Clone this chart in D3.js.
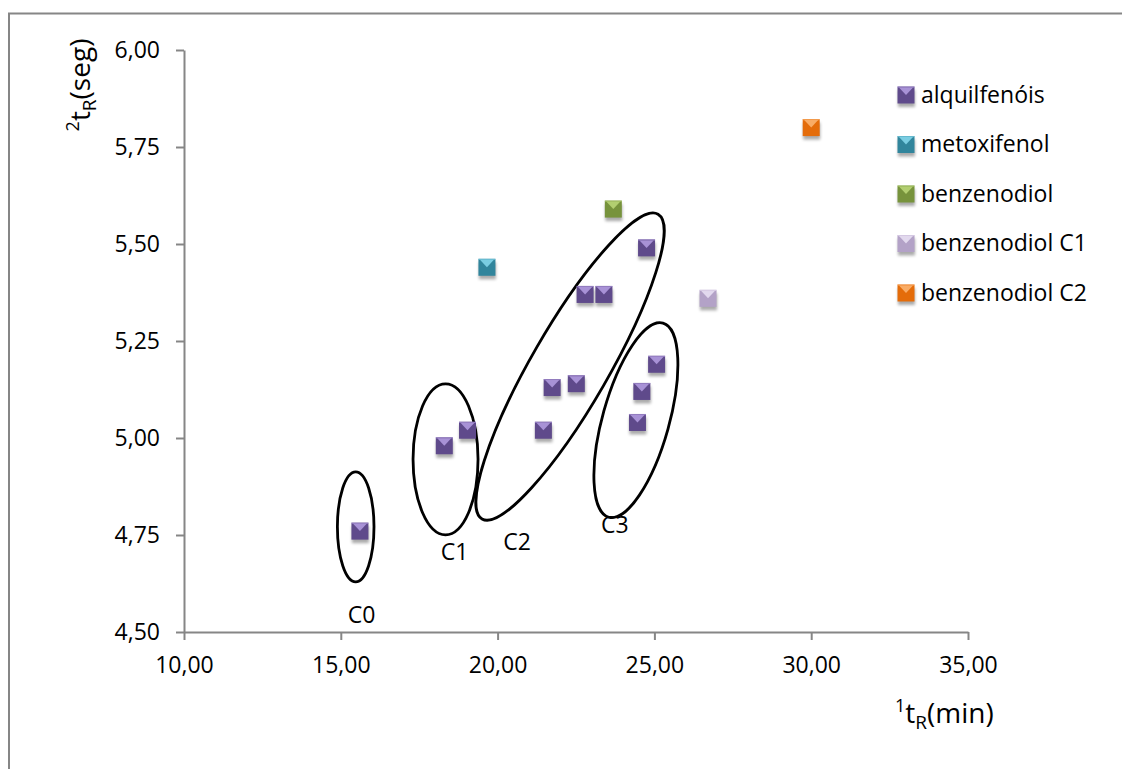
<!DOCTYPE html>
<html>
<head>
<meta charset="utf-8">
<script src="https://cdn.jsdelivr.net/npm/d3@7"></script>
<style>
  html, body { margin: 0; padding: 0; background: #fff; }
  svg { display: block; font-family: "Open Sans", sans-serif; }
</style>
</head>
<body>
<svg id="chart" width="1122" height="769"></svg>
<script>
// ---- data ----
const seriesNames = ["alquilfenóis", "metoxifenol", "benzenodiol", "benzenodiol C1", "benzenodiol C2"];

const alquilfenoisX = [15.61, 18.30, 19.04, 21.46, 21.74, 22.51, 22.79, 23.39, 24.75, 24.46, 24.60, 25.07];
const alquilfenoisY = [4.76, 4.98, 5.02, 5.02, 5.13, 5.14, 5.37, 5.37, 5.49, 5.04, 5.12, 5.19];
const metoxifenolX = [19.66];
const metoxifenolY = [5.44];
const benzenodiolX = [23.69];
const benzenodiolY = [5.59];
const benzenodiolC1X = [26.71];
const benzenodiolC1Y = [5.36];
const benzenodiolC2X = [30.00];
const benzenodiolC2Y = [5.80];

const xTicks = [10, 15, 20, 25, 30, 35];
const yTicks = [4.50, 4.75, 5.00, 5.25, 5.50, 5.75, 6.00];

// cluster groups (centre in data units)
const clusterNames = ["C0", "C1", "C2", "C3"];
const clusterCx = [15.475, 18.34, 22.31, 24.41];
const clusterCy = [4.771, 4.945, 5.184, 5.046];
const clusterLabelX = [15.66, 18.63, 20.62, 23.74];
const clusterLabelY = [4.523, 4.686, 4.711, 4.755];

// ---- styles ----
const palette = {
  "alquilfenóis":   { base: "#5F4A8B", light: "#A892D6" },
  "metoxifenol":    { base: "#31859C", light: "#7ACDE2" },
  "benzenodiol":    { base: "#77933C", light: "#B2CE70" },
  "benzenodiol C1": { base: "#B3A2C7", light: "#E2D9EE" },
  "benzenodiol C2": { base: "#E46C0A", light: "#F9AC66" }
};
// ellipse shape (pixels) per cluster
const clusterShape = [
  { rx: 18.3, ry: 55, rot: 0 },
  { rx: 32.5, ry: 75.5, rot: 0 },
  { rx: 176, ry: 38.5, rot: -60 },
  { rx: 100.8, ry: 33.3, rot: -74.4 }
];

const series = [
  { name: seriesNames[0], xs: alquilfenoisX, ys: alquilfenoisY },
  { name: seriesNames[1], xs: metoxifenolX, ys: metoxifenolY },
  { name: seriesNames[2], xs: benzenodiolX, ys: benzenodiolY },
  { name: seriesNames[3], xs: benzenodiolC1X, ys: benzenodiolC1Y },
  { name: seriesNames[4], xs: benzenodiolC2X, ys: benzenodiolC2Y }
];

const svg = d3.select("#chart");

const defs = svg.append("defs");
const shadow = defs.append("filter").attr("id", "mshadow")
  .attr("x", "-50%").attr("y", "-50%").attr("width", "200%").attr("height", "220%");
shadow.append("feGaussianBlur").attr("stdDeviation", 1.6);

// chart area frame
svg.append("rect")
  .attr("x", 9).attr("y", 13.5).attr("width", 1140).attr("height", 780)
  .attr("fill", "#fff").attr("stroke", "#868686").attr("stroke-width", 2);

const x = d3.scaleLinear().domain([10, 35]).range([184, 968]);
const y = d3.scaleLinear().domain([4.5, 6.0]).range([632, 50]);

const locale = d3.formatLocale({ decimal: ",", thousands: ".", grouping: [3], currency: ["", ""] });
const fmt = locale.format(".2f");

const axisColor = "#868686";
const fontSize = 23;

// axes
const gx = svg.append("g").attr("transform", `translate(0,${y(4.5)})`)
  .call(d3.axisBottom(x).tickValues(xTicks).tickFormat(fmt).tickSize(8).tickSizeOuter(0).tickPadding(17));
const gy = svg.append("g").attr("transform", `translate(${x(10)},0)`)
  .call(d3.axisLeft(y).tickValues(yTicks).tickFormat(fmt).tickSize(8).tickSizeOuter(0).tickPadding(16));

[gx, gy].forEach(g => {
  g.select(".domain").attr("stroke", axisColor).attr("stroke-width", 2);
  g.selectAll(".tick line").attr("stroke", axisColor).attr("stroke-width", 2);
  g.selectAll(".tick text").attr("fill", "#000").style("font-size", fontSize + "px")
    .style("font-family", "'Open Sans', sans-serif");
});
gy.select(".domain").raise();

// marker drawing: bevelled square with soft shadow
const S = 17;
function drawMarker(g, cx, cy, col) {
  const h = S / 2;
  const m = g.append("g").attr("transform", `translate(${cx},${cy})`);
  m.append("rect").attr("x", -h + 0.5).attr("y", -h + 3.5).attr("width", S).attr("height", S)
    .attr("fill", "#000").attr("opacity", 0.33).attr("filter", "url(#mshadow)");
  m.append("rect").attr("x", -h).attr("y", -h).attr("width", S).attr("height", S).attr("fill", col.base);
  m.append("path").attr("d", `M${-h + 1.5},${-h + 1} L${h - 1.5},${-h + 1} L0,${0} Z`).attr("fill", col.light);
  m.append("rect").attr("x", -h).attr("y", -h).attr("width", S).attr("height", 1.2)
    .attr("fill", col.light).attr("opacity", 0.7);
}

// cluster ellipses
const ell = svg.append("g");
clusterNames.forEach((c, i) => {
  const sh = clusterShape[i];
  ell.append("ellipse")
    .attr("transform", `translate(${x(clusterCx[i])},${y(clusterCy[i])}) rotate(${sh.rot})`)
    .attr("rx", sh.rx).attr("ry", sh.ry)
    .attr("fill", "none").attr("stroke", "#000").attr("stroke-width", 2.8);
  ell.append("text")
    .attr("x", x(clusterLabelX[i])).attr("y", y(clusterLabelY[i]))
    .attr("text-anchor", "middle").attr("fill", "#000")
    .style("font-size", fontSize + "px").text(c);
});

// points
const pts = svg.append("g");
series.forEach(s => {
  s.xs.forEach((xv, i) => drawMarker(pts, x(xv), y(s.ys[i]), palette[s.name]));
});

// legend
const leg = svg.append("g").attr("transform", "translate(906,95)");
seriesNames.forEach((n, i) => {
  const row = leg.append("g").attr("transform", `translate(0,${i * 49.5})`);
  drawMarker(row, 0, 0, palette[n]);
  row.append("text").attr("x", 15).attr("y", 7.5).attr("fill", "#000")
    .style("font-size", fontSize + "px").text(n);
});

// axis titles
const xt = svg.append("text").attr("x", 895).attr("y", 723).attr("fill", "#000").style("font-size", "28px");
xt.append("tspan").text("1").style("font-size", "18px").attr("dy", -11);
xt.append("tspan").text("t").attr("dy", 11);
xt.append("tspan").text("R").style("font-size", "19px").attr("dy", 6);
xt.append("tspan").text("(min)").attr("dy", -6);

const yt = svg.append("text").attr("transform", "translate(90,85) rotate(-90)")
  .attr("text-anchor", "middle").attr("fill", "#000").style("font-size", "28px");
yt.append("tspan").text("2").style("font-size", "18px").attr("dy", -11);
yt.append("tspan").text("t").attr("dy", 11);
yt.append("tspan").text("R").style("font-size", "19px").attr("dy", 6);
yt.append("tspan").text("(seg)").attr("dy", -6);
</script>
</body>
</html>
